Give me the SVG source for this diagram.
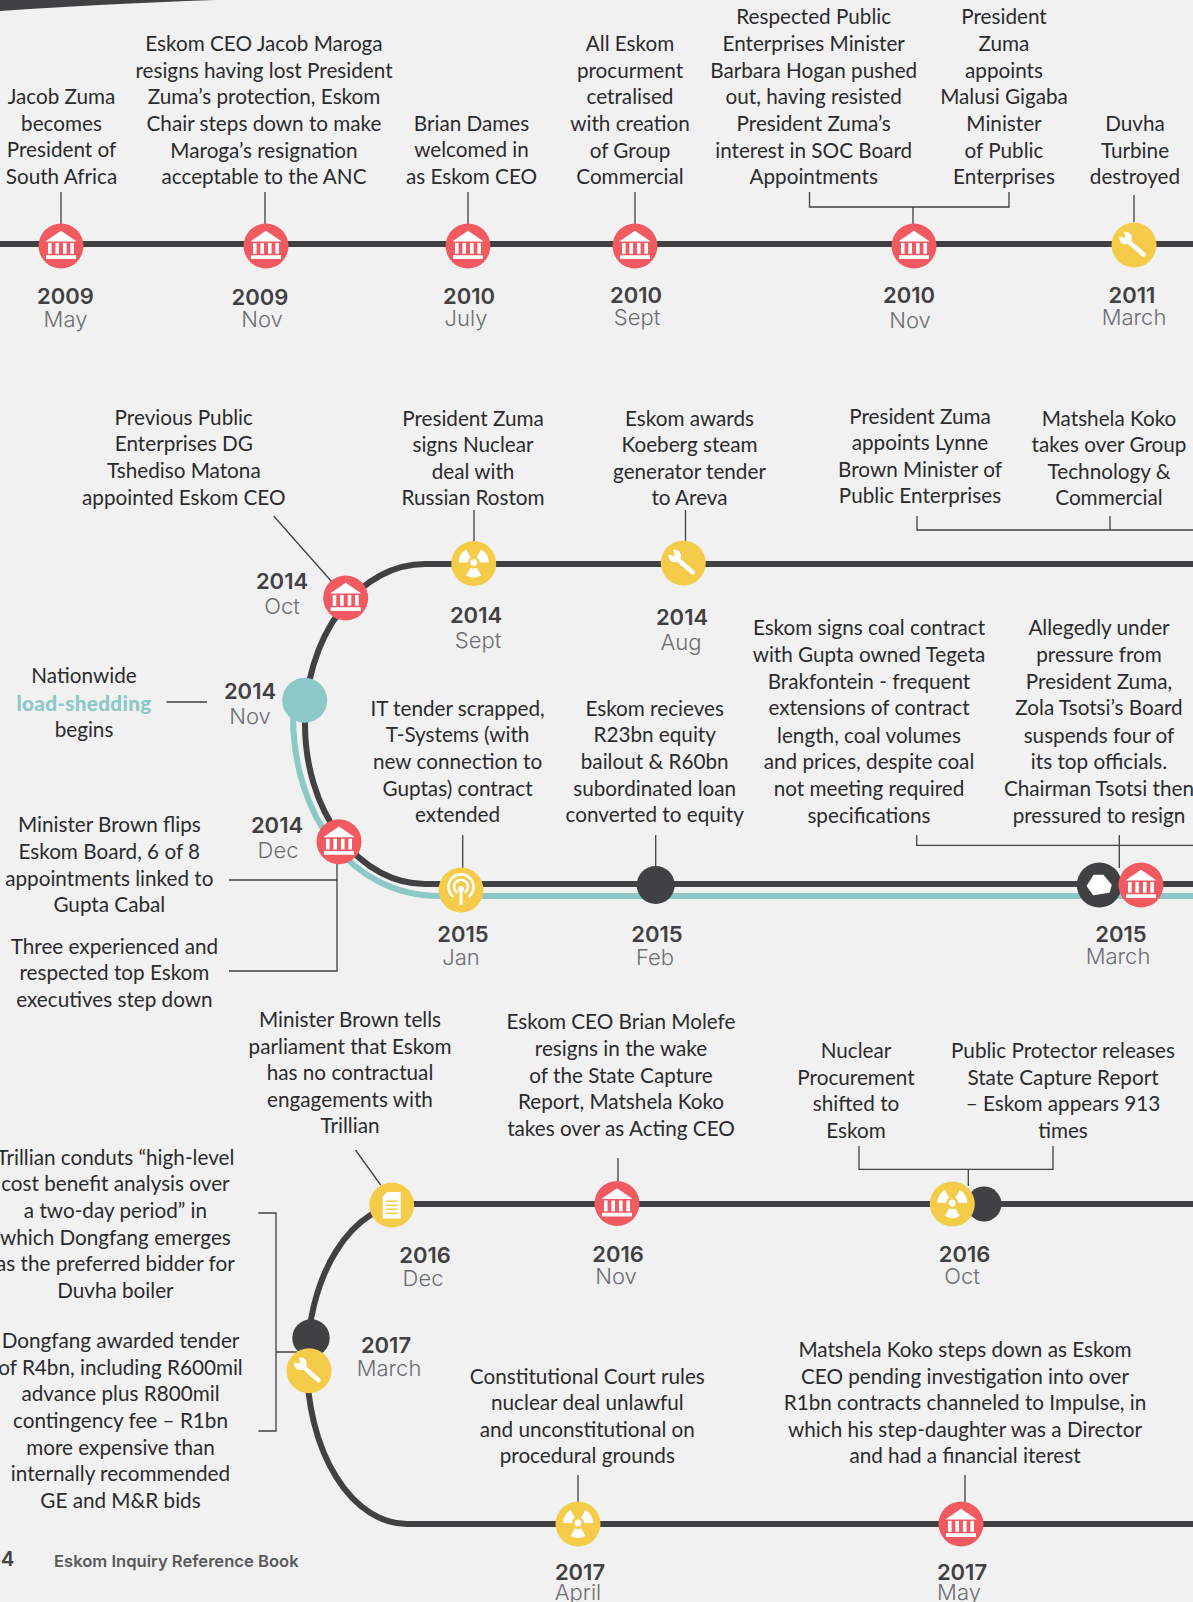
<svg xmlns="http://www.w3.org/2000/svg" width="1193" height="1602" viewBox="0 0 1193 1602">
<style>
text{text-anchor:middle}
.t{font:400 20.7px Lato,"Liberation Sans",sans-serif;fill:#2b2b2d}
.b{transform:translateY(1px)}
.y{font:600 22px Inter,"Liberation Sans",sans-serif;fill:#414042;transform:translateY(1px)}
.m{font:300 22px Inter,"Liberation Sans",sans-serif;fill:#6d6e71;transform:translateY(1px)}
.line{fill:none;stroke:#414042;stroke-width:6}
.teal{fill:none;stroke:#8bc8c6;stroke-width:6}
.lead{fill:none;stroke:#414042;stroke-width:1.3}
.r{fill:#f15a61}.g{fill:#f4cc4a}.d{fill:#414042}.w{fill:#fff}
</style>
<defs>
<g id="bank"><circle r="22.5" class="r"/><path class="w" d="M-15.7-4.5L0-15.3L15.7-4.5ZM-13-3h3.6V7.7H-13ZM-5.6-3H-2V7.7H-5.6ZM2-3h3.6V7.7H2ZM9.4-3H13V7.7H9.4ZM-15 9.2H15V13H-15Z"/></g>
<g id="rad"><circle r="22.5" class="g"/><g transform="translate(0,-1)"><circle r="3.4" class="w"/><path class="w" d="M-15 0A15 15 0 0 1-7.5-13L-3-5.2A6 6 0 0 0-6 0ZM7.5-13A15 15 0 0 1 15 0L6 0A6 6 0 0 0 3-5.2ZM7.5 13A15 15 0 0 1-7.5 13L-3 5.2A6 6 0 0 0 3 5.2Z"/></g></g>
<g id="wrench"><circle r="22.5" class="g"/><path d="M-6-4L9.500 9.500" stroke="#fff" stroke-width="4.400" stroke-linecap="round" fill="none"/><circle cx="-8.500" cy="-7" r="6.300" class="w"/><path class="g" d="M-8.500-7L-10.500-15L-17-9Z"/></g>
<g id="ant"><circle r="22.5" class="g"/><path d="M-8.5 6A12.5 12.5 0 1 1 8.5 6M-4.6 2A7 7 0 1 1 4.6 2" fill="none" stroke="#fff" stroke-width="2.6" stroke-linecap="round"/><circle cy="-1" r="3" class="w"/><path class="w" d="M-1.5-1H1.5V15H-1.5Z"/></g>
<g id="doc"><circle r="22.5" class="g"/><path class="w" d="M-4.500-13H9V13.500H-9V-8.500ZM-6-4.500V-3H6V-4.500ZM-6-.5V1H6V-.5ZM-6 3.500V5H6V3.500ZM-6 7.500V9H6V7.500Z" fill-rule="evenodd"/></g>
</defs>
<rect width="1193" height="1602" fill="#f1f1f1"/>
<path d="M0 0H215Q100 4 0 11Z" fill="#414042"/>
<g id="connectors">
<path class="line" d="M0 244H1193"/>
<path class="teal" d="M293 715C293 815 350 896 440 896H1193"/>
<path class="line" d="M1193 564H425A120 160 0 0 0 425 884H1193"/>
<path class="line" d="M1193 1204H407A100 160 0 0 0 407 1524H1193"/>
<path class="lead" d="M61 192V224M265 192V224M468 192V224M635 192V224M809.500 192V207H1009V192M913 207V224M1134 195V222"/>
<path class="lead" d="M273.700 516L332 582M474 510V541M685.500 510V541M917 516V530H1193M1110 516V530M462.700 835V868M655.700 835V868M916.700 835V845.300H1193M1119.300 835V868M166.500 702H207M229 880H337M337 863V971H229"/>
<path class="lead" d="M355.500 1150L380.700 1185M618 1158V1181M859 1146V1169.300H1053V1146M968.300 1169.300V1186M258.400 1213H276V1431H258.400M276 1352H297M578 1475V1502M965 1475V1502"/>
</g>
<g id="n2009may"><use href="#bank" x="61" y="246"/><text class="t"><tspan x="61.500" y="104">Jacob Zuma</tspan><tspan x="61.500" y="131">becomes</tspan><tspan x="61.500" y="157">President of</tspan><tspan x="61.500" y="184">South Africa</tspan></text><text class="y" x="65.500" y="303">2009</text><text class="m" x="65.500" y="326">May</text></g>
<g id="n2009nov"><use href="#bank" x="266" y="246"/><text class="t"><tspan x="264" y="51">Eskom CEO Jacob Maroga</tspan><tspan x="264" y="77.500">resigns having lost President</tspan><tspan x="264" y="104">Zuma’s protection, Eskom</tspan><tspan x="264" y="131">Chair steps down to make</tspan><tspan x="264" y="157.500">Maroga’s resignation</tspan><tspan x="264" y="184">acceptable to the ANC</tspan></text><text class="y" x="260" y="304">2009</text><text class="m" x="262" y="326">Nov</text></g>
<g id="n2010july"><use href="#bank" x="468" y="246"/><text class="t"><tspan x="471.500" y="131">Brian Dames</tspan><tspan x="471.500" y="157">welcomed in</tspan><tspan x="471.500" y="184">as Eskom CEO</tspan></text><text class="y" x="469" y="303">2010</text><text class="m" x="466" y="325">July</text></g>
<g id="n2010sept"><use href="#bank" x="635" y="246"/><text class="t"><tspan x="630" y="51">All Eskom</tspan><tspan x="630" y="77.500">procurment</tspan><tspan x="630" y="104">cetralised</tspan><tspan x="630" y="131">with creation</tspan><tspan x="630" y="157.500">of Group</tspan><tspan x="630" y="184">Commercial</tspan></text><text class="y" x="636" y="302">2010</text><text class="m" x="637" y="324">Sept</text></g>
<g id="n2010nov"><use href="#bank" x="914" y="246"/><text class="t"><tspan x="813.700" y="24">Respected Public</tspan><tspan x="813.700" y="51">Enterprises Minister</tspan><tspan x="813.700" y="77.500">Barbara Hogan pushed</tspan><tspan x="813.700" y="104">out, having resisted</tspan><tspan x="813.700" y="131">President Zuma’s</tspan><tspan x="813.700" y="157.500">interest in SOC Board</tspan><tspan x="813.700" y="184">Appointments</tspan></text><text class="t"><tspan x="1004" y="24">President</tspan><tspan x="1004" y="51">Zuma</tspan><tspan x="1004" y="77.500">appoints</tspan><tspan x="1004" y="104">Malusi Gigaba</tspan><tspan x="1004" y="131">Minister</tspan><tspan x="1004" y="157.500">of Public</tspan><tspan x="1004" y="184">Enterprises</tspan></text><text class="y" x="909" y="302">2010</text><text class="m" x="910" y="327">Nov</text></g>
<g id="n2011march"><use href="#wrench" x="1134" y="245"/><text class="t"><tspan x="1135" y="131">Duvha</tspan><tspan x="1135" y="157.500">Turbine</tspan><tspan x="1135" y="184">destroyed</tspan></text><text class="y" x="1132" y="302">2011</text><text class="m" x="1134" y="324">March</text></g>
<g id="n2014oct"><use href="#bank" x="345.700" y="598"/><text class="t b"><tspan x="183.800" y="424">Previous Public</tspan><tspan x="183.800" y="450">Enterprises DG</tspan><tspan x="183.800" y="477">Tshediso Matona</tspan><tspan x="183.800" y="504">appointed Eskom CEO</tspan></text><text class="y" x="282" y="588">2014</text><text class="m" x="282" y="613">Oct</text></g>
<g id="n2014sept"><use href="#rad" x="473.700" y="563.500"/><text class="t b"><tspan x="473" y="425">President Zuma</tspan><tspan x="473" y="451">signs Nuclear</tspan><tspan x="473" y="478">deal with</tspan><tspan x="473" y="504">Russian Rostom</tspan></text><text class="y" x="476" y="622">2014</text><text class="m" x="478" y="647">Sept</text></g>
<g id="n2014aug"><use href="#wrench" x="683.300" y="563"/><text class="t b"><tspan x="689.500" y="425">Eskom awards</tspan><tspan x="689.500" y="451">Koeberg steam</tspan><tspan x="689.500" y="478">generator tender</tspan><tspan x="689.500" y="504">to Areva</tspan></text><text class="y" x="682" y="624">2014</text><text class="m" x="681" y="649">Aug</text></g>
<g id="n2014minister"><text class="t b"><tspan x="920" y="423">President Zuma</tspan><tspan x="920" y="449">appoints Lynne</tspan><tspan x="920" y="476">Brown Minister of</tspan><tspan x="920" y="502">Public Enterprises</tspan></text><text class="t b"><tspan x="1109" y="425">Matshela Koko</tspan><tspan x="1109" y="451">takes over Group</tspan><tspan x="1109" y="478">Technology &amp;</tspan><tspan x="1109" y="504">Commercial</tspan></text></g>
<g id="n2014nov"><circle cx="304.700" cy="700.300" r="22.500" fill="#8bc8c6"/><text class="t b"><tspan x="84" y="682">Nationwide</tspan><tspan x="84" y="710" font-weight="900" letter-spacing=".3" fill="#8bc8c6">load-shedding</tspan><tspan x="84" y="736">begins</tspan></text><text class="y" x="250" y="698">2014</text><text class="m" x="250" y="723">Nov</text></g>
<g id="n2014dec"><use href="#bank" x="339" y="841.700"/><text class="t b"><tspan x="109.300" y="831">Minister Brown flips</tspan><tspan x="109.300" y="858">Eskom Board, 6 of 8</tspan><tspan x="109.300" y="884.500">appointments linked to</tspan><tspan x="109.300" y="911">Gupta Cabal</tspan></text><text class="t"><tspan x="114.400" y="954">Three experienced and</tspan><tspan x="114.400" y="980">respected top Eskom</tspan><tspan x="114.400" y="1007">executives step down</tspan></text><text class="y" x="277" y="832">2014</text><text class="m" x="278" y="857">Dec</text></g>
<g id="n2015jan"><use href="#ant" x="461" y="890"/><text class="t"><tspan x="457.600" y="716">IT tender scrapped,</tspan><tspan x="457.600" y="742">T-Systems (with</tspan><tspan x="457.600" y="769">new connection to</tspan><tspan x="457.600" y="795.500">Guptas) contract</tspan><tspan x="457.600" y="822">extended</tspan></text><text class="y" x="463" y="941">2015</text><text class="m" x="461" y="964">Jan</text></g>
<g id="n2015feb"><circle cx="655.700" cy="885" r="19" class="d"/><text class="t"><tspan x="654.700" y="716">Eskom recieves</tspan><tspan x="654.700" y="742">R23bn equity</tspan><tspan x="654.700" y="769">bailout &amp; R60bn</tspan><tspan x="654.700" y="795.500">subordinated loan</tspan><tspan x="654.700" y="822">converted to equity</tspan></text><text class="y" x="657" y="941">2015</text><text class="m" x="655" y="964">Feb</text></g>
<g id="n2015coal"><circle cx="1099.300" cy="885" r="22.500" class="d"/><path class="w" stroke="#fff" stroke-width="1.500" stroke-linejoin="round" d="M1094 875.500H1103L1111 885L1109 892L1093.500 894.500L1087.500 886Z"/><text class="t"><tspan x="869" y="635">Eskom signs coal contract</tspan><tspan x="869" y="662">with Gupta owned Tegeta</tspan><tspan x="869" y="688.500">Brakfontein - frequent</tspan><tspan x="869" y="715">extensions of contract</tspan><tspan x="869" y="742.500">length, coal volumes</tspan><tspan x="869" y="769">and prices, despite coal</tspan><tspan x="869" y="795.500">not meeting required</tspan><tspan x="869" y="822.500">specifications</tspan></text></g>
<g id="n2015march"><use href="#bank" x="1141" y="885"/><text class="t"><tspan x="1099" y="635">Allegedly under</tspan><tspan x="1099" y="662">pressure from</tspan><tspan x="1099" y="688.500">President Zuma,</tspan><tspan x="1099" y="715">Zola Tsotsi’s Board</tspan><tspan x="1099" y="742.500">suspends four of</tspan><tspan x="1099" y="769">its top officials.</tspan><tspan x="1099" y="795.500">Chairman Tsotsi then</tspan><tspan x="1099" y="822.500">pressured to resign</tspan></text><text class="y" x="1121" y="941">2015</text><text class="m" x="1118" y="963">March</text></g>
<g id="n2016dec"><use href="#doc" x="391.700" y="1205"/><text class="t"><tspan x="350" y="1026.500">Minister Brown tells</tspan><tspan x="350" y="1053.500">parliament that Eskom</tspan><tspan x="350" y="1080">has no contractual</tspan><tspan x="350" y="1106.500">engagements with</tspan><tspan x="350" y="1133">Trillian</tspan></text><text class="y" x="425" y="1261.700">2016</text><text class="m" x="423" y="1285">Dec</text></g>
<g id="n2016nov"><use href="#bank" x="617" y="1203.500"/><text class="t b"><tspan x="621" y="1028.400">Eskom CEO Brian Molefe</tspan><tspan x="621" y="1055">resigns in the wake</tspan><tspan x="621" y="1081.500">of the State Capture</tspan><tspan x="621" y="1108">Report, Matshela Koko</tspan><tspan x="621" y="1134.600">takes over as Acting CEO</tspan></text><text class="y" x="618" y="1261">2016</text><text class="m" x="616" y="1283">Nov</text></g>
<g id="n2016octb"><circle cx="984" cy="1204" r="17.500" class="d"/><text class="t b"><tspan x="1063" y="1057">Public Protector releases</tspan><tspan x="1063" y="1083.600">State Capture Report</tspan><tspan x="1063" y="1110">– Eskom appears 913</tspan><tspan x="1063" y="1136.600">times</tspan></text></g>
<g id="n2016oct"><use href="#rad" x="952.300" y="1204"/><text class="t b"><tspan x="856" y="1057">Nuclear</tspan><tspan x="856" y="1083.600">Procurement</tspan><tspan x="856" y="1110">shifted to</tspan><tspan x="856" y="1136.600">Eskom</tspan></text><text class="y" x="964.500" y="1261">2016</text><text class="m" x="962" y="1283">Oct</text></g>
<g id="n2017marchb"><circle cx="311" cy="1338" r="18.700" class="d"/><text class="t"><tspan x="115.400" y="1165">Trillian conduts “high-level</tspan><tspan x="115.400" y="1191">cost benefit analysis over</tspan><tspan x="115.400" y="1218">a two-day period” in</tspan><tspan x="115.400" y="1245">which Dongfang emerges</tspan><tspan x="115.400" y="1271">as the preferred bidder for</tspan><tspan x="115.400" y="1298">Duvha boiler</tspan></text></g>
<g id="n2017march"><use href="#wrench" x="309" y="1370.700"/><text class="t"><tspan x="120.500" y="1348">Dongfang awarded tender</tspan><tspan x="120.500" y="1375">of R4bn, including R600mil</tspan><tspan x="120.500" y="1401">advance plus R800mil</tspan><tspan x="120.500" y="1428">contingency fee – R1bn</tspan><tspan x="120.500" y="1455">more expensive than</tspan><tspan x="120.500" y="1481">internally recommended</tspan><tspan x="120.500" y="1508">GE and M&amp;R bids</tspan></text><text class="y" x="386" y="1351.700">2017</text><text class="m" x="389" y="1375">March</text></g>
<g id="n2017april"><use href="#rad" x="578" y="1524"/><text class="t b"><tspan x="587.300" y="1383">Constitutional Court rules</tspan><tspan x="587.300" y="1409.400">nuclear deal unlawful</tspan><tspan x="587.300" y="1436">and unconstitutional on</tspan><tspan x="587.300" y="1462">procedural grounds</tspan></text><text class="y" x="580" y="1579">2017</text><text class="m" x="578" y="1599">April</text></g>
<g id="n2017may"><use href="#bank" x="961" y="1524"/><text class="t b"><tspan x="965" y="1356">Matshela Koko steps down as Eskom</tspan><tspan x="965" y="1382.500">CEO pending investigation into over</tspan><tspan x="965" y="1409">R1bn contracts channeled to Impulse, in</tspan><tspan x="965" y="1435.500">which his step-daughter was a Director</tspan><tspan x="965" y="1462">and had a financial iterest</tspan></text><text class="y" x="962" y="1579">2017</text><text class="m" x="959" y="1599">May</text></g>
<text x="1" y="1566" style="font:600 20px Inter,sans-serif;fill:#414042;text-anchor:start">4</text>
<text x="54" y="1566.500" style="font:600 16.600px Inter,sans-serif;fill:#58595b;text-anchor:start">Eskom Inquiry Reference Book</text>
</svg>
